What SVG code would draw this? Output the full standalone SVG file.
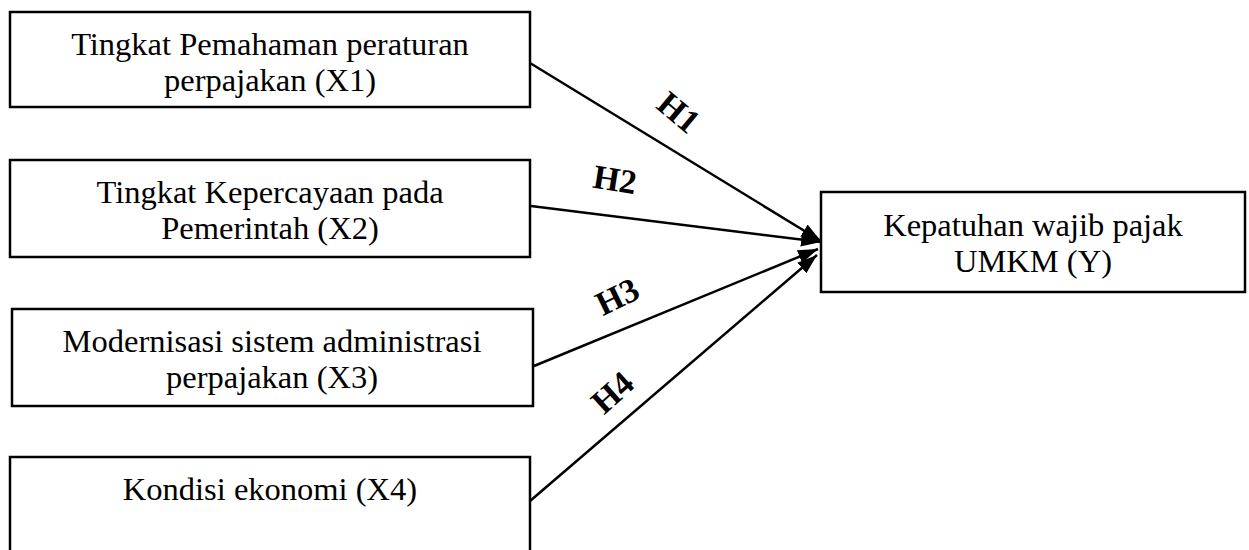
<svg xmlns="http://www.w3.org/2000/svg" width="1249" height="550" viewBox="0 0 1249 550">
<style>
.box{fill:#fff;stroke:#000;stroke-width:2.5}
.t{font-family:"Liberation Serif","Times New Roman",serif;font-size:32.5px;fill:#000;text-anchor:middle}
.h{font-family:"Liberation Serif","Times New Roman",serif;font-size:34px;font-weight:bold;fill:#000;text-anchor:middle}
.c{stroke:#000;stroke-width:2.5;fill:none;marker-end:url(#ah)}
</style>
<defs>
<marker id="ah" markerUnits="userSpaceOnUse" markerWidth="22" markerHeight="16" refX="20" refY="7" orient="auto">
<path d="M0,0 L20,7 L0,14 z" fill="#000"/>
</marker>
</defs>
<rect width="1249" height="550" fill="#fff"/>
<g id="connectors">
<line class="c" x1="530" y1="63" x2="821" y2="241"/>
<line class="c" x1="531" y1="206" x2="821" y2="242"/>
<line class="c" x1="534" y1="366" x2="818" y2="249"/>
<line class="c" x1="530" y1="501" x2="817" y2="255"/>
<text class="h" transform="translate(679,112) rotate(40)" dy="12">H1</text>
<text class="h" transform="translate(615,179) rotate(9)" dy="12">H2</text>
<text class="h" transform="translate(617,296) rotate(-26)" dy="12">H3</text>
<text class="h" transform="translate(612,392) rotate(-42)" dy="12">H4</text>
</g>
<g id="x1">
<rect class="box" x="10" y="12" width="520" height="95"/>
<text class="t" x="270" y="55">Tingkat Pemahaman peraturan</text>
<text class="t" x="270" y="91">perpajakan (X1)</text>
</g>
<g id="x2">
<rect class="box" x="10" y="160" width="520" height="97"/>
<text class="t" x="270" y="203">Tingkat Kepercayaan pada</text>
<text class="t" x="270" y="239">Pemerintah (X2)</text>
</g>
<g id="x3">
<rect class="box" x="12" y="309" width="521" height="97"/>
<text class="t" x="272" y="352">Modernisasi sistem administrasi</text>
<text class="t" x="272" y="388">perpajakan (X3)</text>
</g>
<g id="x4">
<rect class="box" x="10" y="457" width="520" height="110"/>
<text class="t" x="270" y="500">Kondisi ekonomi (X4)</text>
</g>
<g id="y">
<rect class="box" x="821" y="192" width="424" height="100"/>
<text class="t" x="1033" y="236">Kepatuhan wajib pajak</text>
<text class="t" x="1033" y="272">UMKM (Y)</text>
</g>
</svg>
